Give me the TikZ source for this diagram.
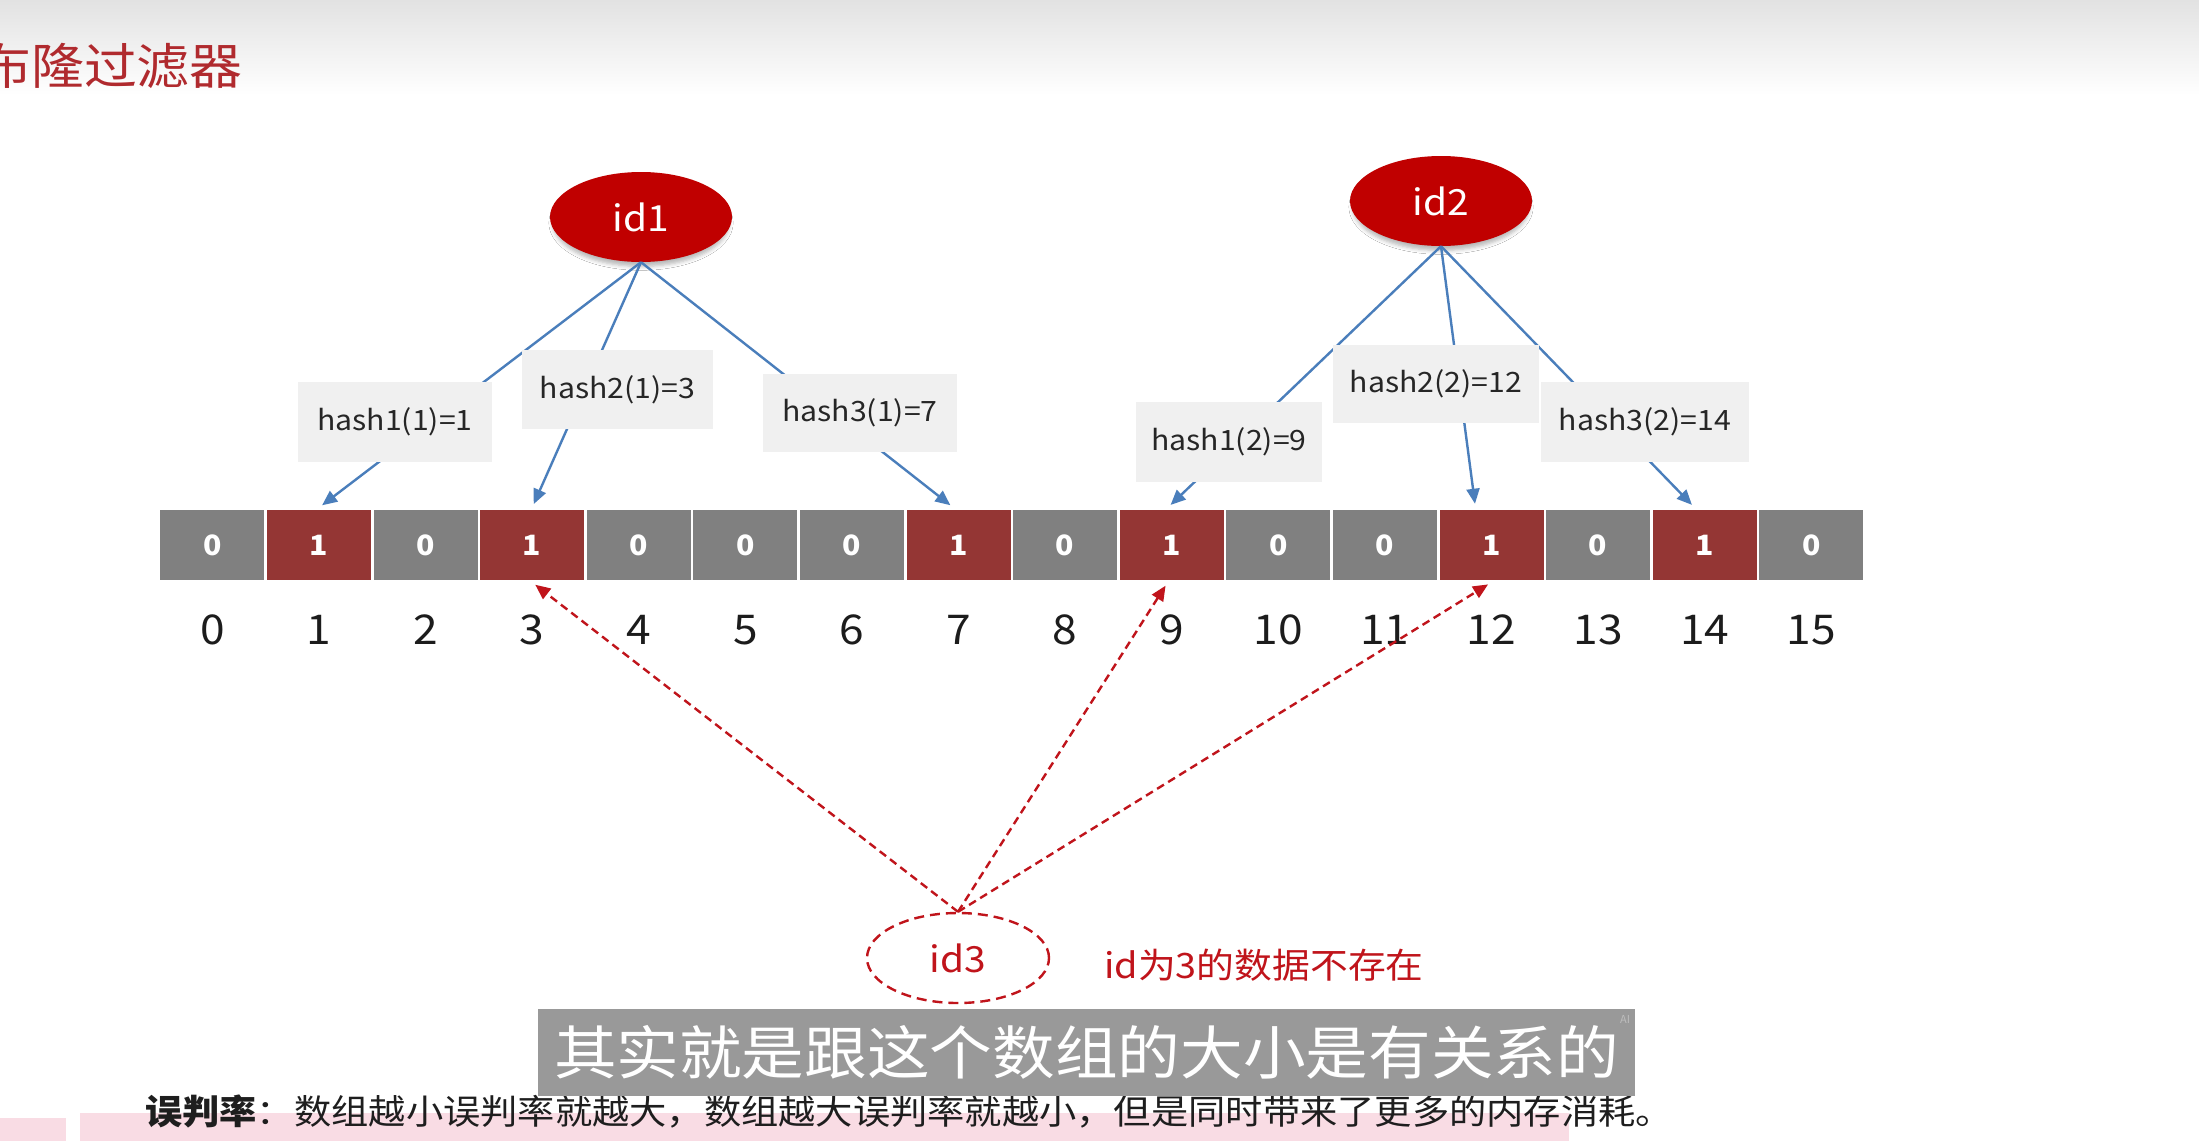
\documentclass[tikz,border=0pt]{standalone}
\usepackage{graphicx}
\usepackage{fontspec}
\setmainfont{Noto Sans CJK SC}
\usetikzlibrary{shapes.geometric,arrows.meta,shadows.blur}

\definecolor{topgray}{HTML}{E2E2E2}
\definecolor{titlered}{HTML}{B02A2E}
\definecolor{idred}{HTML}{C00000}
\definecolor{probered}{HTML}{C0141B}
\definecolor{cellgray}{HTML}{808080}
\definecolor{cellred}{HTML}{943634}
\definecolor{linkblue}{HTML}{4A7EBB}
\definecolor{boxgray}{HTML}{F0F0F0}
\definecolor{hashtxt}{HTML}{262626}
\definecolor{idxcol}{HTML}{1C1C1C}
\definecolor{subgray}{HTML}{999999}
\definecolor{aigray}{HTML}{BDBDBD}
\definecolor{pinkband}{HTML}{F9DCE4}
\definecolor{bottomtxt}{HTML}{1E1E1E}

% font size in pt, and a slightly widened text box
\newcommand{\fsz}[1]{\fontsize{#1}{#1}\selectfont}
\newcommand{\sx}[1]{\scalebox{1.08}[1]{#1}}

\begin{document}
\begin{tikzpicture}[x=1pt,y=-1pt,
  cellbox/.style={rectangle, minimum width=106.6pt, minimum height=72pt, inner sep=0pt,
    draw=white, line width=2.6pt, text=white, font=\fsz{28}\bfseries},
  bit0/.style={cellbox, fill=cellgray},
  bit1/.style={cellbox, fill=cellred},
  idx/.style={text=idxcol, font=\fsz{41}, inner sep=0pt},
  hashbox/.style={rectangle, fill=boxgray, inner sep=0pt, text=hashtxt, font=\fsz{28}},
  idnode/.style={ellipse, minimum width=182pt, minimum height=90pt, inner sep=0pt, font=\fsz{36}},
  softshadow/.style={blur shadow={shadow xshift=0pt, shadow yshift=-6pt, shadow scale=0.97,
    shadow blur radius=4pt, shadow opacity=28}},
  hasharrow/.style={draw=linkblue, line width=2.4pt,
    -{Triangle[length=15pt,width=13pt]}, shorten >=4pt},
  probe/.style={draw=probered, line width=2.4pt, dash pattern=on 8pt off 5pt,
    -{Triangle[length=15pt,width=13pt]}, shorten >=4pt}
]
\useasboundingbox (0,0) rectangle (2199,1141);
\fill[white] (0,0) rectangle (2199,1141);
\shade[top color=topgray, bottom color=white] (0,0) rectangle (2199,95);

% heading
\node[anchor=west, text=titlered, font=\fsz{49}, inner sep=0pt] (title) at (-22,66) {\sx{布隆过滤器}};

% the two stored keys
\node[idnode, fill=idred, text=white, softshadow] (id1) at (641,217) {\sx{id1}};
\node[idnode, fill=idred, text=white, softshadow] (id2) at (1441,201) {\sx{id2}};

% bit array and its indices
\foreach \b [count=\i from 0] in {0,1,0,1,0,0,0,1,0,1,0,0,1,0,1,0} {
  \node[bit\b] (c\i) at ({159+106.6*(\i+0.5)},545) {\sx{\b}};
  \node[idx] (n\i) at ({159+106.6*(\i+0.5)},630) {\sx{\i}};
}

% the queried key
\node[idnode, draw=probered, dash pattern=on 10pt off 6pt, line width=2.4pt, fill=white,
  text=probered] (id3) at (958,958) {\sx{id3}};

% hash mappings
\draw[hasharrow] (id1.south) -- (c1.north);
\draw[hasharrow] (id1.south) -- (c3.north);
\draw[hasharrow] (id1.south) -- ([xshift=-5pt]c7.north);
\draw[hasharrow] (id2.south) -- ([xshift=-4pt]c9.north);
\draw[hasharrow] (id2.south) -- ([xshift=-16pt]c12.north);
\draw[hasharrow] (id2.south) -- ([xshift=-10pt]c14.north);

% lookups of id3
\draw[probe] (id3.north) -- (c3.south);
\draw[probe] (id3.north) -- ([xshift=-4pt]c9.south);
\draw[probe] (id3.north) -- (c12.south);

% hash labels over the mapping lines
\node[hashbox, minimum width=194pt, minimum height=80pt] (h11) at (395,422) {\sx{hash1(1)=1}};
\node[hashbox, minimum width=191pt, minimum height=79pt] (h21) at (617.5,389.5) {\sx{hash2(1)=3}};
\node[hashbox, minimum width=194pt, minimum height=78pt] (h31) at (860,413) {\sx{hash3(1)=7}};
\node[hashbox, minimum width=186pt, minimum height=80pt] (h12) at (1229,442) {\sx{hash1(2)=9}};
\node[hashbox, minimum width=206pt, minimum height=78pt] (h22) at (1436,384) {\sx{hash2(2)=12}};
\node[hashbox, minimum width=208pt, minimum height=80pt] (h32) at (1645,422) {\sx{hash3(2)=14}};

\node[anchor=west, text=probered, font=\fsz{35}, inner sep=0pt] (note) at (1104,965) {\sx{id为3的数据不存在}};

% bottom band
\fill[pinkband] (80,1113) rectangle (1569,1141);
\fill[pinkband] (0,1118) rectangle (66,1141);

\node[anchor=west, inner sep=0pt, text=bottomtxt, font=\fsz{34.5}] (rate) at (145,1111)
  {\sx{\textbf{误判率}：数组越小误判率就越大，数组越大误判率就越小，但是同时带来了更多的内存消耗。}};

% caption strip
\node[fill=subgray, minimum width=1097pt, minimum height=87pt, inner sep=0pt, text=white,
  font=\fsz{58}] (sub) at (1086.5,1052.5) {\sx{其实就是跟这个数组的大小是有关系的}};
\node[anchor=north east, inner sep=0pt, text=aigray, font=\fsz{11}] (ai)
  at ([xshift=-5pt,yshift=-6pt]sub.north east) {AI};
\end{tikzpicture}
\end{document}
